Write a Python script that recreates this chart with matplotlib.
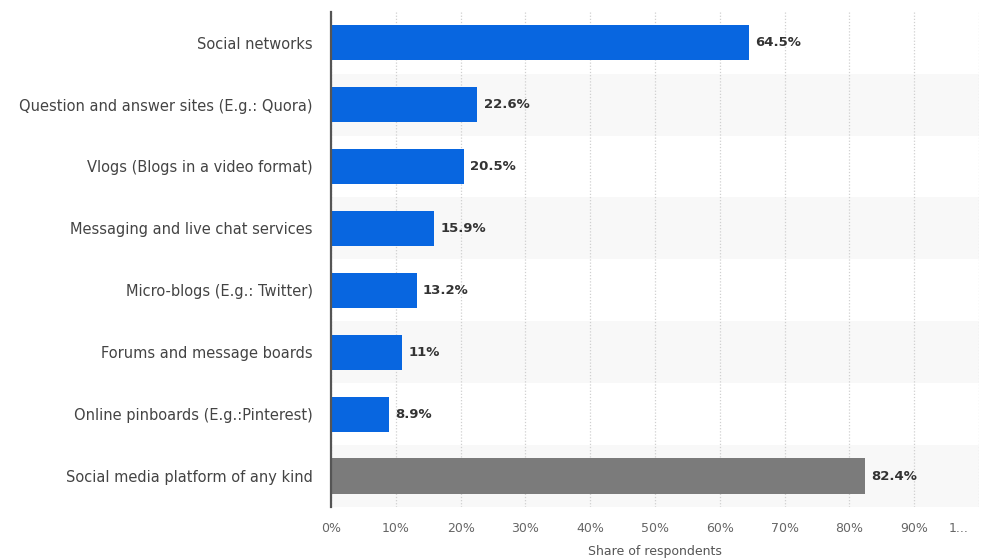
import matplotlib
matplotlib.use("Agg")
import matplotlib.pyplot as plt
from matplotlib.transforms import ScaledTranslation

categories = [
    "Social networks",
    "Question and answer sites (E.g.: Quora)",
    "Vlogs (Blogs in a video format)",
    "Messaging and live chat services",
    "Micro-blogs (E.g.: Twitter)",
    "Forums and message boards",
    "Online pinboards (E.g.:Pinterest)",
    "Social media platform of any kind",
]
values = [64.5, 22.6, 20.5, 15.9, 13.2, 11, 8.9, 82.4]
value_labels = ["64.5%", "22.6%", "20.5%", "15.9%", "13.2%", "11%", "8.9%", "82.4%"]
bar_colors = ["#0866e0"] * 7 + ["#7b7b7b"]
xticks = [0, 10, 20, 30, 40, 50, 60, 70, 80, 90, 100]
xtick_labels = ["0%", "10%", "20%", "30%", "40%", "50%", "60%", "70%", "80%", "90%", "1..."]

plt.rcParams['font.family'] = ['DejaVu Sans']
fig = plt.figure(figsize=(10, 5.6), dpi=100)
ax = fig.add_axes([0.331, 0.0946, 0.648, 0.8845])

n = len(categories)
ypos = list(range(n))
ax.set_ylim(n - 0.5, -0.5)
ax.set_xlim(0, 100)

for i in ypos:
    if i % 2 == 1:
        ax.axhspan(i - 0.5, i + 0.5, color="#f8f8f8", zorder=0, lw=0)

ax.barh(ypos, values, height=0.57, color=bar_colors, zorder=3)
for i, (v, lab) in enumerate(zip(values, value_labels)):
    ax.text(v + 1.0, i, lab, va="center", ha="left", fontsize=9.5,
            fontweight="bold", color="#333333", zorder=4)

ax.set_yticks(ypos)
ax.set_yticklabels(categories, fontsize=10.5, color="#444444")
ax.set_xticks(xticks)
ax.set_xticklabels(xtick_labels, fontsize=9, color="#666666")
ax.tick_params(axis="both", length=0)
ax.tick_params(axis="y", pad=13)
ax.tick_params(axis="x", pad=11)
lab = ax.get_xticklabels()[-1]
lab.set_transform(lab.get_transform() + ScaledTranslation(-0.2, 0, fig.dpi_scale_trans))

ax.grid(axis="x", color="#d0d0d0", linestyle=(0, (1, 1.5)), linewidth=0.9, zorder=1)
ax.set_axisbelow(True)
for s in ["top", "right", "bottom"]:
    ax.spines[s].set_visible(False)
ax.spines["left"].set_color("#555555")
ax.spines["left"].set_linewidth(1.6)
ax.spines["left"].set_zorder(5)

ax.set_xlabel("Share of respondents", fontsize=9, color="#555555", labelpad=7)

fig.savefig("out.png", dpi=100, facecolor="white")
